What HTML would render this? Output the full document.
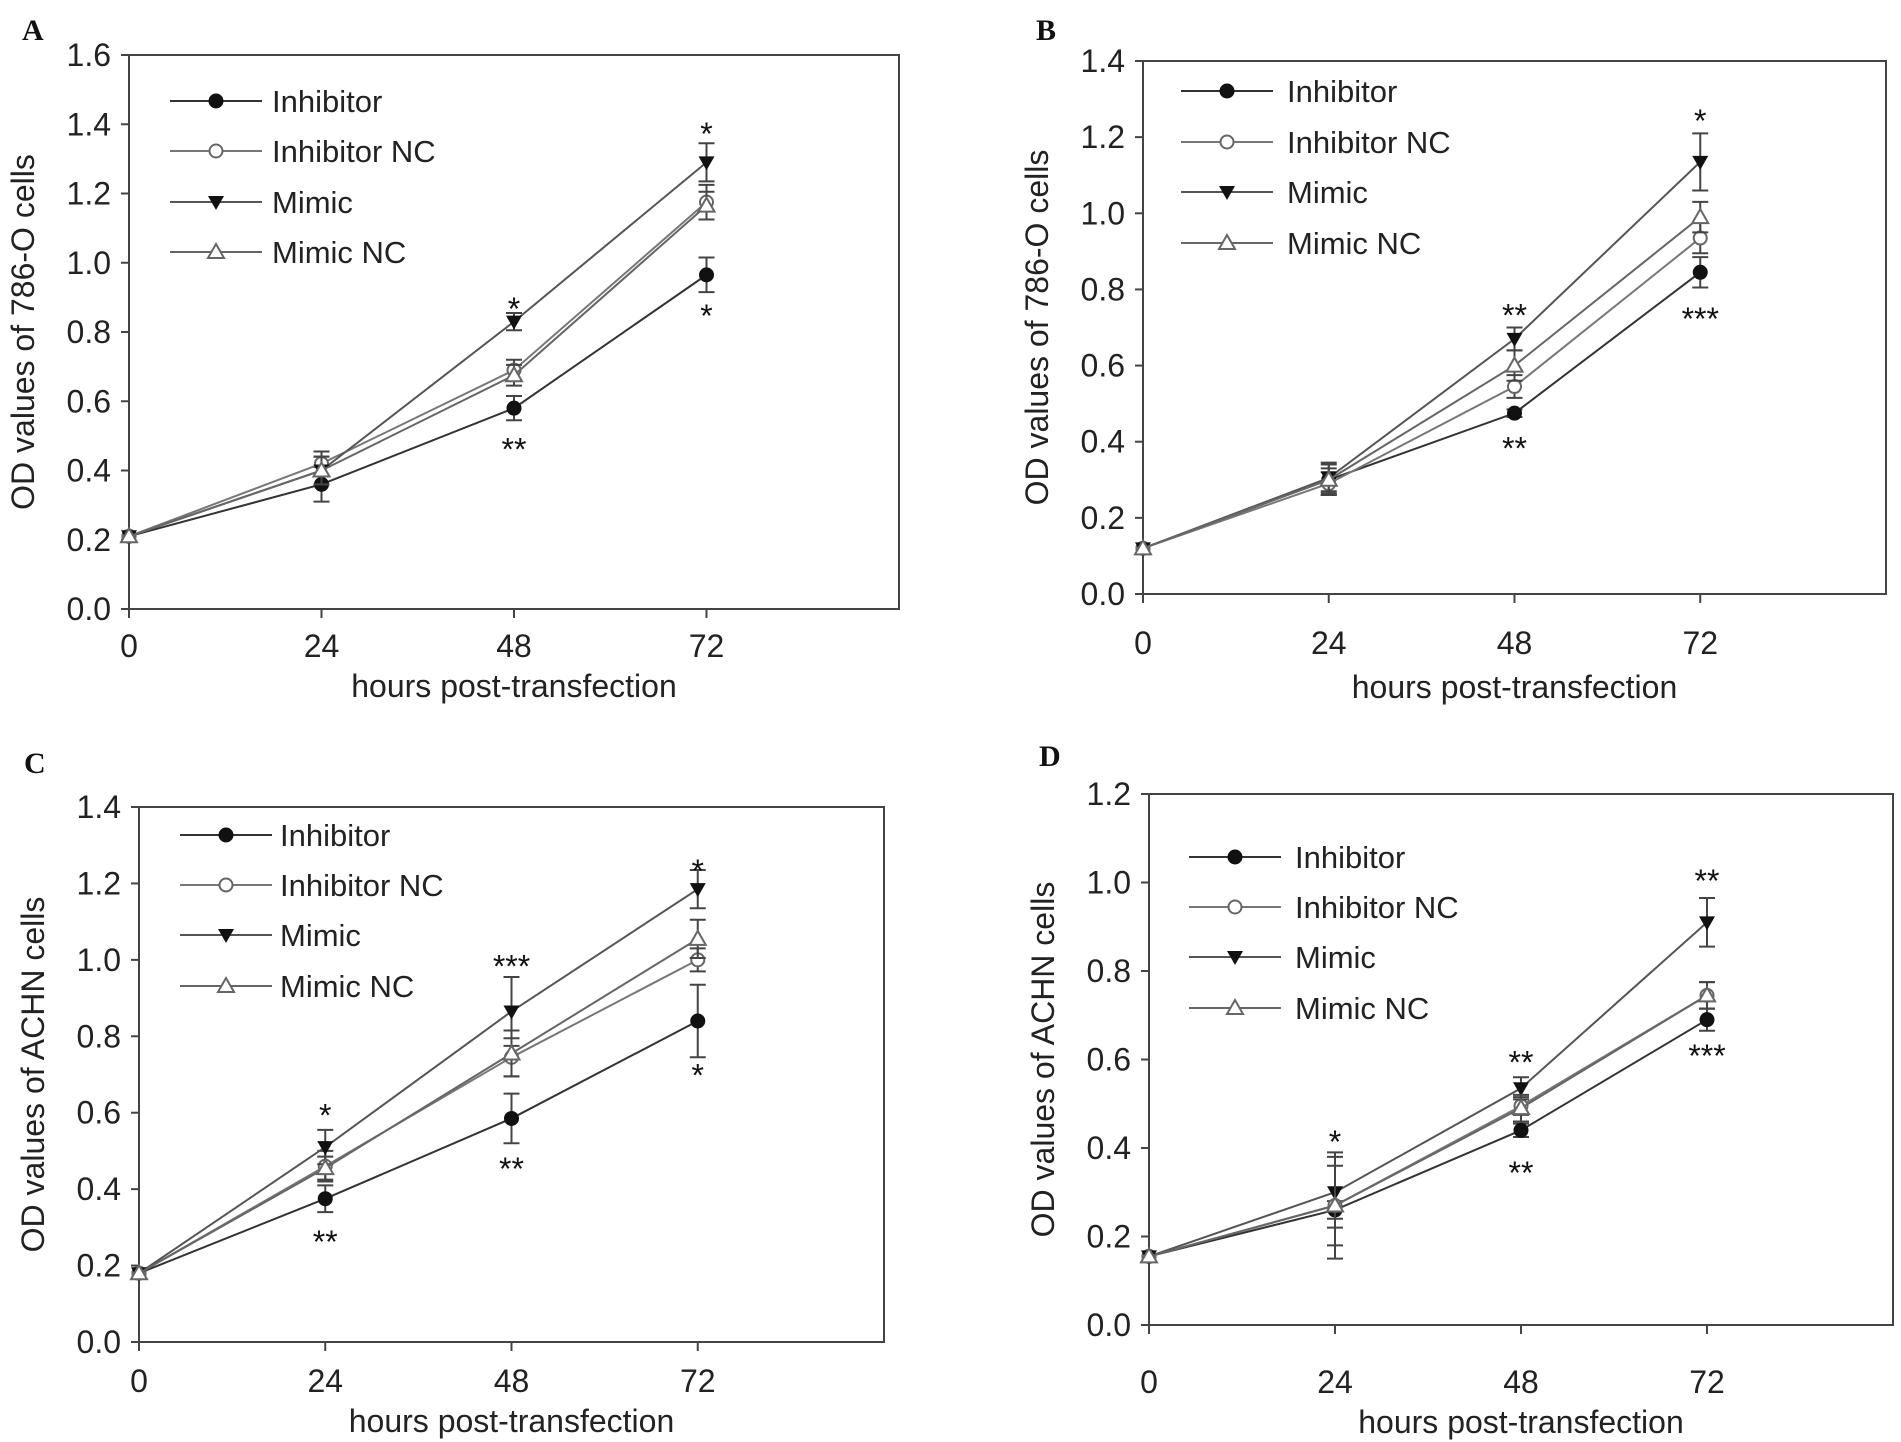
<!DOCTYPE html>
<html><head><meta charset="utf-8"><style>
html,body{margin:0;padding:0;background:#fff;}
svg{display:block;font-family:"Liberation Sans",Arial,sans-serif;}
</style></head><body>
<svg id="fig" width="1901" height="1442" viewBox="0 0 1901 1442" xmlns="http://www.w3.org/2000/svg"></svg>
<script>
const hours = [0, 24, 48, 72];
const seriesNames = ["Inhibitor", "Inhibitor NC", "Mimic", "Mimic NC"];
// Panel A
const aInhibitor = [0.21, 0.36, 0.58, 0.965];
const aInhibitorNC = [0.21, 0.42, 0.69, 1.175];
const aMimic = [0.21, 0.40, 0.83, 1.29];
const aMimicNC = [0.21, 0.40, 0.675, 1.165];
const aErrInhibitor = [0, 0.05, 0.035, 0.05];
const aErrInhibitorNC = [0, 0.035, 0.03, 0.05];
const aErrMimic = [0, 0.04, 0.025, 0.055];
const aErrMimicNC = [0, 0.04, 0.03, 0.04];
const aYTicks = ["0.0","0.2","0.4","0.6","0.8","1.0","1.2","1.4","1.6"];
// Panel B
const bInhibitor = [0.12, 0.30, 0.475, 0.845];
const bInhibitorNC = [0.12, 0.29, 0.545, 0.935];
const bMimic = [0.12, 0.305, 0.67, 1.135];
const bMimicNC = [0.12, 0.30, 0.60, 0.99];
const bErrInhibitor = [0, 0.04, 0.01, 0.04];
const bErrInhibitorNC = [0, 0.03, 0.03, 0.04];
const bErrMimic = [0, 0.04, 0.03, 0.075];
const bErrMimicNC = [0, 0.03, 0.04, 0.04];
const bYTicks = ["0.0","0.2","0.4","0.6","0.8","1.0","1.2","1.4"];
// Panel C
const cInhibitor = [0.18, 0.375, 0.585, 0.84];
const cInhibitorNC = [0.18, 0.46, 0.745, 1.0];
const cMimic = [0.18, 0.51, 0.865, 1.185];
const cMimicNC = [0.18, 0.455, 0.755, 1.055];
const cErrInhibitor = [0, 0.035, 0.065, 0.095];
const cErrInhibitorNC = [0, 0.04, 0.05, 0.03];
const cErrMimic = [0, 0.045, 0.09, 0.05];
const cErrMimicNC = [0, 0.03, 0.06, 0.05];
const cYTicks = ["0.0","0.2","0.4","0.6","0.8","1.0","1.2","1.4"];
// Panel D
const dInhibitor = [0.155, 0.26, 0.44, 0.69];
const dInhibitorNC = [0.155, 0.27, 0.495, 0.745];
const dMimic = [0.155, 0.30, 0.535, 0.91];
const dMimicNC = [0.155, 0.27, 0.49, 0.745];
const dErrInhibitor = [0, 0.02, 0.015, 0.025];
const dErrInhibitorNC = [0, 0.09, 0.02, 0.03];
const dErrMimic = [0, 0.08, 0.025, 0.055];
const dErrMimicNC = [0, 0.12, 0.03, 0.03];
const dYTicks = ["0.0","0.2","0.4","0.6","0.8","1.0","1.2"];
// significance annotations: [hour, yValue, label]
const aStars = [[48,0.875,"*"],[48,0.47,"**"],[72,1.38,"*"],[72,0.855,"*"]];
const bStars = [[48,0.74,"**"],[48,0.39,"**"],[72,1.25,"*"],[72,0.73,"***"]];
const cStars = [[24,0.6,"*"],[24,0.27,"**"],[48,0.99,"***"],[48,0.46,"**"],[72,1.24,"*"],[72,0.705,"*"]];
const dStars = [[24,0.42,"*"],[48,0.6,"**"],[48,0.35,"**"],[72,1.01,"**"],[72,0.615,"***"]];

const NS = "http://www.w3.org/2000/svg";
const svg = document.getElementById('fig');
function mk(tag, attrs, parent){
  const e = document.createElementNS(NS, tag);
  for (const k in attrs) e.setAttribute(k, attrs[k]);
  (parent||svg).appendChild(e);
  return e;
}
const panels = [
  {id:"a", letter:"A", L:129,R:899,T:55,B:609, ymax:1.6, ylabel:"OD values of 786-O cells", lx:[170,262], ly:[101,151,202,252], letterXY:[22,40], tkY:48, ttlY:88,
   vals:[aInhibitor,aInhibitorNC,aMimic,aMimicNC], errs:[aErrInhibitor,aErrInhibitorNC,aErrMimic,aErrMimicNC], ticks:aYTicks, stars:aStars},
  {id:"b", letter:"B", L:1143,R:1886,T:61,B:594, ymax:1.4, ylabel:"OD values of 786-O cells", lx:[1181,1277], ly:[91,142,192,243], letterXY:[1036,40], tkY:60, ttlY:104,
   vals:[bInhibitor,bInhibitorNC,bMimic,bMimicNC], errs:[bErrInhibitor,bErrInhibitorNC,bErrMimic,bErrMimicNC], ticks:bYTicks, stars:bStars},
  {id:"c", letter:"C", L:139,R:884,T:807,B:1342, ymax:1.4, ylabel:"OD values of ACHN cells", lx:[180,270], ly:[835,885,935,986], letterXY:[24,773], tkY:50, ttlY:90,
   vals:[cInhibitor,cInhibitorNC,cMimic,cMimicNC], errs:[cErrInhibitor,cErrInhibitorNC,cErrMimic,cErrMimicNC], ticks:cYTicks, stars:cStars},
  {id:"d", letter:"D", L:1149,R:1893,T:794,B:1325, ymax:1.2, ylabel:"OD values of ACHN cells", lx:[1189,1285], ly:[857,907,957,1008], letterXY:[1039,766], tkY:68, ttlY:108,
   vals:[dInhibitor,dInhibitorNC,dMimic,dMimicNC], errs:[dErrInhibitor,dErrInhibitorNC,dErrMimic,dErrMimicNC], ticks:dYTicks, stars:dStars}
];
const lineCols = ["#333","#777","#555","#666"];
function marker(i, x, y, g){
  let m;
  if (i===0) m = mk('circle',{cx:x,cy:y,r:7,fill:'#111',stroke:'#111'},g);
  else if (i===1) m = mk('circle',{cx:x,cy:y,r:6.5,fill:'#fff',stroke:'#666','stroke-width':2},g);
  else if (i===2) m = mk('path',{d:`M${x-8},${y-6} L${x+8},${y-6} L${x},${y+8} Z`,fill:'#111'},g);
  else m = mk('path',{d:`M${x},${y-8} L${x+8},${y+6} L${x-8},${y+6} Z`,fill:'#fff',stroke:'#666','stroke-width':2},g);
  return m;
}
panels.forEach(p=>{
  const g = mk('g',{});
  
  
  const xs = h => p.L + (h/96)*(p.R-p.L);
  const ys = v => p.B - (v/p.ymax)*(p.B-p.T);
  const lt = mk('text',{x:p.letterXY[0],y:p.letterXY[1],'font-family':'Liberation Serif,serif','font-weight':'bold','font-size':30,fill:'#111'},g);
  lt.textContent = p.letter;
  
  
  const frame = mk('rect',{x:p.L,y:p.T,width:p.R-p.L,height:p.B-p.T,fill:'none',stroke:'#444','stroke-width':2},g);
  
  
  p.ticks.forEach((t,k)=>{
    const y = ys(k*0.2);
    mk('line',{x1:p.L-8,x2:p.L,y1:y,y2:y,stroke:'#444','stroke-width':2},g);
    const tx = mk('text',{x:p.L-18,y:y+11,'text-anchor':'end','font-size':32,fill:'#222'},g);
    tx.textContent = t;
    
    
  });
  hours.forEach(h=>{
    const x = xs(h);
    mk('line',{x1:x,x2:x,y1:p.B,y2:p.B+9,stroke:'#444','stroke-width':2},g);
    const tx = mk('text',{x:x,y:p.B+p.tkY,'text-anchor':'middle','font-size':32,fill:'#222'},g);
    tx.textContent = String(h);
    
    
  });
  const xt = mk('text',{x:xs(48),y:p.B+p.ttlY,'text-anchor':'middle','font-size':32,fill:'#222'},g);
  xt.textContent = 'hours post-transfection';
  
  
  const cy = (p.T+p.B)/2, cx = p.L-95;
  const yt = mk('text',{x:cx,y:cy,'text-anchor':'middle','font-size':32,fill:'#222',transform:`rotate(-90 ${cx} ${cy})`},g);
  yt.textContent = p.ylabel;
  
  
  p.vals.forEach((vals,i)=>{
    const sg = mk('g',{},g);
    
    
    const pts = vals.map((v,k)=>xs(hours[k])+','+ys(v)).join(' ');
    mk('polyline',{points:pts,fill:'none',stroke:lineCols[i],'stroke-width':2},sg);
    vals.forEach((v,k)=>{
      const e = p.errs[i][k];
      if (e>0){
        const x = xs(hours[k]);
        mk('path',{d:`M${x},${ys(v-e)} L${x},${ys(v+e)} M${x-8},${ys(v-e)} L${x+8},${ys(v-e)} M${x-8},${ys(v+e)} L${x+8},${ys(v+e)}`,stroke:'#444','stroke-width':2,fill:'none'},sg);
      }
    });
    vals.forEach((v,k)=>{
      const m = marker(i, xs(hours[k]), ys(v), sg);
      
      
    });
  });
  p.stars.forEach(s=>{
    const st = mk('text',{x:xs(s[0]),y:ys(s[1])+14,'text-anchor':'middle','font-size':32,fill:'#111'},g);
    st.textContent = s[2];
    
    
  });
  const lg = mk('g',{},g);
  
  
  seriesNames.forEach((n,i)=>{
    const y = p.ly[i];
    const le = mk('g',{},lg);
    
    
    mk('line',{x1:p.lx[0],x2:p.lx[0]+92,y1:y,y2:y,stroke:lineCols[i],'stroke-width':2},le);
    marker(i, p.lx[0]+46, y, le);
    const t = mk('text',{x:p.lx[1]+10,y:y+11,'font-size':31,fill:'#222'},le);
    t.textContent = n;
  });
});
</script>
</body></html>
